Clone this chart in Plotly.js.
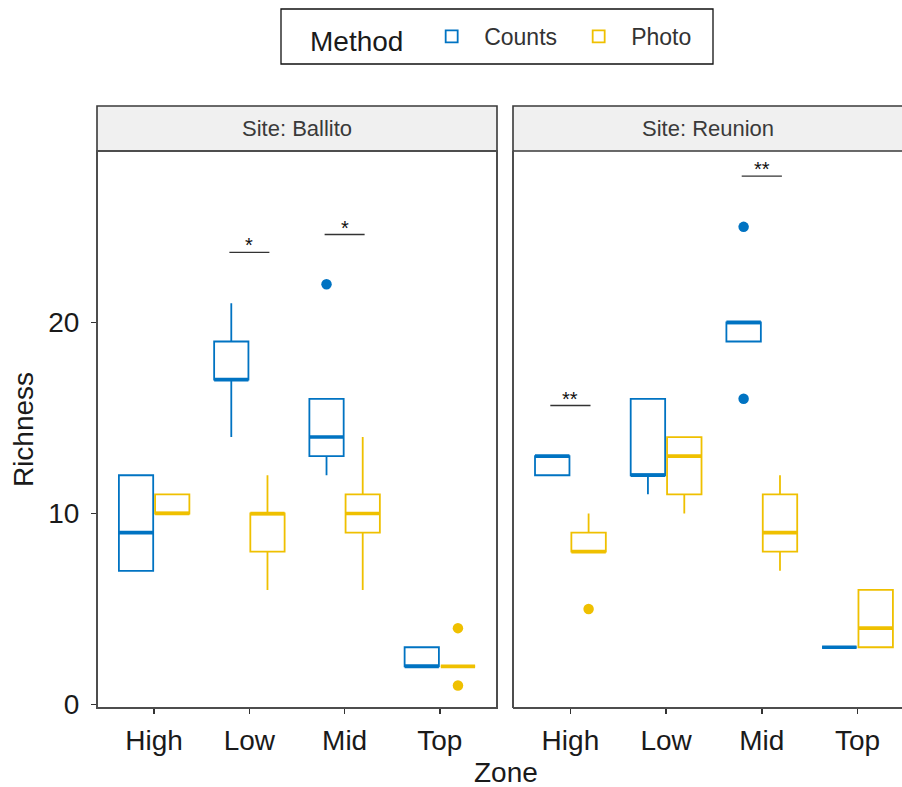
<!DOCTYPE html>
<html>
<head>
<meta charset="utf-8">
<script src="https://cdn.plot.ly/plotly-3.0.1.min.js"></script>
<style>
  html, body { margin: 0; padding: 0; background: #ffffff; }
  #chart { width: 902px; height: 787px; }
</style>
</head>
<body>
<div id="chart"></div>
<script>
// Species richness by shore zone, sampling method and site
const zones = ['High', 'Low', 'Mid', 'Top'];
const sites = ['Ballito', 'Reunion'];
const methods = ['Counts', 'Photo'];
const methodColors = ['#0073C2', '#EFC000'];

// Five-number summaries per zone (High, Low, Mid, Top)
const ballitoCountsMin = [7, 14, 12, 2];
const ballitoCountsQ1 = [7, 17, 13, 2];
const ballitoCountsMed = [9, 17, 14, 2];
const ballitoCountsQ3 = [12, 19, 16, 3];
const ballitoCountsMax = [12, 21, 16, 3];

const ballitoPhotoMin = [10, 6, 6, 2];
const ballitoPhotoQ1 = [10, 8, 9, 2];
const ballitoPhotoMed = [10, 10, 10, 2];
const ballitoPhotoQ3 = [11, 10, 11, 2];
const ballitoPhotoMax = [11, 12, 14, 2];

const reunionCountsMin = [12, 11, 19, 3];
const reunionCountsQ1 = [12, 12, 19, 3];
const reunionCountsMed = [13, 12, 20, 3];
const reunionCountsQ3 = [13, 16, 20, 3];
const reunionCountsMax = [13, 16, 20, 3];

const reunionPhotoMin = [8, 10, 7, 3];
const reunionPhotoQ1 = [8, 11, 8, 3];
const reunionPhotoMed = [8, 13, 9, 4];
const reunionPhotoQ3 = [9, 14, 11, 6];
const reunionPhotoMax = [10, 14, 12, 6];

// Outlying observations
const outlierSite = ['Ballito', 'Ballito', 'Ballito', 'Reunion', 'Reunion', 'Reunion'];
const outlierZone = ['Mid', 'Top', 'Top', 'High', 'Mid', 'Mid'];
const outlierMethod = ['Counts', 'Photo', 'Photo', 'Photo', 'Counts', 'Counts'];
const outlierValue = [22, 4, 1, 5, 25, 16];

// Counts vs Photo comparisons (significance labels and their heights)
const sigSite = ['Ballito', 'Ballito', 'Reunion', 'Reunion'];
const sigZone = ['Low', 'Mid', 'High', 'Mid'];
const sigY = [23.66, 24.6, 15.65, 27.66];
const sigLabel = ['*', '*', '**', '**'];

const stats = {
  Ballito: {
    Counts: [ballitoCountsMin, ballitoCountsQ1, ballitoCountsMed, ballitoCountsQ3, ballitoCountsMax],
    Photo: [ballitoPhotoMin, ballitoPhotoQ1, ballitoPhotoMed, ballitoPhotoQ3, ballitoPhotoMax]
  },
  Reunion: {
    Counts: [reunionCountsMin, reunionCountsQ1, reunionCountsMed, reunionCountsQ3, reunionCountsMax],
    Photo: [reunionPhotoMin, reunionPhotoQ1, reunionPhotoMed, reunionPhotoQ3, reunionPhotoMax]
  }
};

const BOX_W = 0.36;
const DODGE = [-0.19, 0.19];
const FONT = 'Liberation Sans, Arial, Helvetica, sans-serif';
const TEXT = '#1a1a1a';

const zonePos = z => zones.indexOf(z) + 1;
const axisSuffix = s => (sites.indexOf(s) === 0 ? '' : '2');

const traces = [];
sites.forEach((site, si) => {
  const sfx = axisSuffix(site);
  methods.forEach((m, mi) => {
    const st = stats[site][m];
    const xs = zones.map((z, i) => i + 1 + DODGE[mi]);
    traces.push({
      type: 'box',
      name: m,
      legendgroup: m,
      showlegend: si === 0,
      x: xs,
      lowerfence: st[0], q1: st[1], median: st[2], q3: st[3], upperfence: st[4],
      width: BOX_W,
      whiskerwidth: 0,
      boxpoints: false,
      line: { color: methodColors[mi], width: 1.8 },
      fillcolor: 'rgba(255,255,255,1)',
      xaxis: 'x' + sfx, yaxis: 'y' + sfx,
      hoverinfo: 'skip'
    });
    // heavier median bars
    const mx = [], my = [];
    xs.forEach((x, i) => {
      mx.push(x - BOX_W / 2, x + BOX_W / 2, null);
      my.push(st[2][i], st[2][i], null);
    });
    traces.push({
      type: 'scatter', mode: 'lines', x: mx, y: my,
      line: { color: methodColors[mi], width: 3.6 },
      showlegend: false, hoverinfo: 'skip',
      xaxis: 'x' + sfx, yaxis: 'y' + sfx
    });
    // outliers
    const ox = [], oy = [];
    outlierValue.forEach((v, i) => {
      if (outlierSite[i] === site && outlierMethod[i] === m) {
        ox.push(zonePos(outlierZone[i]) + DODGE[mi]);
        oy.push(v);
      }
    });
    if (ox.length) {
      traces.push({
        type: 'scatter', mode: 'markers', x: ox, y: oy,
        marker: { color: methodColors[mi], size: 10.5 },
        showlegend: false, hoverinfo: 'skip',
        xaxis: 'x' + sfx, yaxis: 'y' + sfx
      });
    }
  });
});

// comparison brackets
const annotations = [];
sigY.forEach((y, i) => {
  const sfx = axisSuffix(sigSite[i]);
  const c = zonePos(sigZone[i]);
  traces.push({
    type: 'scatter', mode: 'lines',
    x: [c + DODGE[0] - 0.02, c + DODGE[1] + 0.02], y: [y, y],
    line: { color: '#333333', width: 1.3 },
    showlegend: false, hoverinfo: 'skip',
    xaxis: 'x' + sfx, yaxis: 'y' + sfx
  });
  annotations.push({
    xref: 'x' + sfx, yref: 'y' + sfx, x: c, y: y,
    text: sigLabel[i], showarrow: false, yanchor: 'bottom', yshift: -6,
    font: { family: FONT, size: 20, color: '#111111' }
  });
});

const W = 902, H = 787;
const M = { l: 97, r: 0, t: 106, b: 79 };
const plotH = H - M.t - M.b;
const plotW = W - M.l - M.r;
const px2x = px => (px - M.l) / plotW;
const px2y = py => (H - M.b - py) / plotH;
const panelTop = px2y(151);
const d1 = [0, 400 / plotW];
const d2 = [px2x(513), 1];

// facet strips
const shapes = [];
sites.forEach(site => {
  const sfx = axisSuffix(site);
  shapes.push({
    type: 'rect', xref: 'x' + sfx + ' domain', yref: 'paper',
    x0: 0, x1: sfx ? 1.02 : 1, y0: panelTop, y1: 1,
    fillcolor: '#F0F0F0', line: { color: '#3a3a3a', width: 1.6 }, layer: 'below'
  });
  annotations.push({
    xref: 'x' + sfx + ' domain', yref: 'paper', x: 0.5,
    y: (1 + panelTop) / 2, yanchor: 'middle', showarrow: false,
    text: 'Site: ' + site,
    font: { family: FONT, size: 22, color: '#3a3a3a' }
  });
});
// panel frames
shapes.push({
  type: 'rect', xref: 'x domain', yref: 'y domain', x0: 0, x1: 1, y0: 0, y1: 1,
  line: { color: '#4d4d4d', width: 2 }, layer: 'above'
});
shapes.push({
  type: 'line', xref: 'x2 domain', yref: 'y2 domain', x0: 0, x1: 0, y0: 0, y1: 1,
  line: { color: '#4d4d4d', width: 2 }, layer: 'above'
});
shapes.push({
  type: 'line', xref: 'x2 domain', yref: 'y2 domain', x0: 0, x1: 1, y0: 0, y1: 0,
  line: { color: '#4d4d4d', width: 2 }, layer: 'above'
});
// legend frame
shapes.push({
  type: 'rect', xref: 'paper', yref: 'paper',
  x0: px2x(281), x1: px2x(713), y0: px2y(64), y1: px2y(9),
  line: { color: '#111111', width: 1.3 }, fillcolor: 'rgba(0,0,0,0)'
});

annotations.push({
  xref: 'paper', yref: 'paper', x: px2x(506), y: px2y(772),
  text: 'Zone', showarrow: false, yanchor: 'middle',
  font: { family: FONT, size: 28, color: TEXT }
});

const xCommon = {
  tickmode: 'array', tickvals: [1, 2, 3, 4], ticktext: zones,
  ticks: 'outside', ticklen: 5, tickwidth: 1.5, tickcolor: '#333333',
  showgrid: false, zeroline: false, showline: false,
  tickfont: { family: FONT, size: 28, color: TEXT },
  ticklabelstandoff: 2,
  automargin: false, fixedrange: true
};
const yRange = [-0.18, 28.97];

const layout = {
  width: W, height: H, margin: M,
  paper_bgcolor: '#ffffff', plot_bgcolor: '#ffffff',
  boxmode: 'overlay',
  font: { family: FONT, color: TEXT },
  xaxis: Object.assign({}, xCommon, { domain: d1, range: [0.4, 4.6], anchor: 'y' }),
  xaxis2: Object.assign({}, xCommon, { domain: d2, range: [0.4, 4.465], anchor: 'y2' }),
  yaxis: {
    domain: [0, panelTop], range: yRange, anchor: 'x',
    tickmode: 'array', tickvals: [0, 10, 20],
    ticks: 'outside', ticklen: 5, tickwidth: 1.5, tickcolor: '#333333',
    showgrid: false, zeroline: false, showline: false,
    tickfont: { family: FONT, size: 28, color: TEXT },
    ticklabelstandoff: 6,
    title: { text: 'Richness', font: { family: FONT, size: 28, color: TEXT }, standoff: 6 },
    automargin: false, fixedrange: true
  },
  yaxis2: {
    domain: [0, panelTop], range: yRange, anchor: 'x2', matches: 'y',
    showticklabels: false, ticks: '', showgrid: false, zeroline: false, showline: false,
    automargin: false, fixedrange: true
  },
  legend: {
    orientation: 'h', x: px2x(308), xanchor: 'left',
    y: px2y(38.5), yanchor: 'middle',
    borderwidth: 0, bgcolor: 'rgba(0,0,0,0)',
    font: { family: FONT, size: 23, color: '#333333' },
    title: { text: 'Method\u00a0', font: { family: FONT, size: 28, color: TEXT } },
    itemwidth: 55, entrywidth: 77, traceorder: 'normal'
  },
  shapes: shapes,
  annotations: annotations,
  showlegend: true
};

Plotly.newPlot('chart', traces, layout, { displayModeBar: false, staticPlot: true });
</script>
</body>
</html>
